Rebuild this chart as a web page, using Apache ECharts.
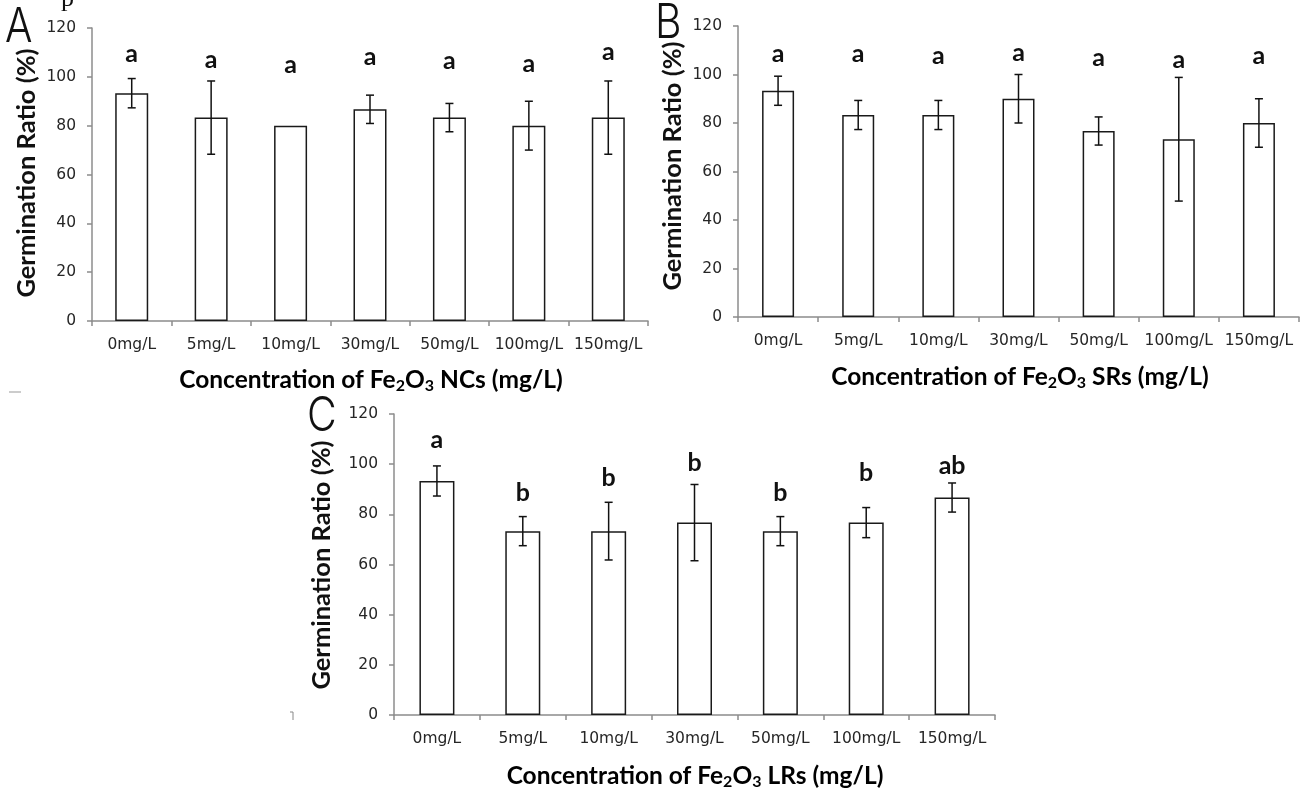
<!DOCTYPE html>
<html>
<head>
<meta charset="utf-8">
<title>Germination ratio</title>
<script src="https://cdn.jsdelivr.net/npm/echarts@6.0.0/dist/echarts.min.js"></script>
<style>
  html, body { margin: 0; padding: 0; background: #fff; }
  #chart { width: 1304px; height: 789px; }
</style>
</head>
<body>
<div id="chart"></div>
<script>
// concentrations on the x axis (same for all three panels)
const categories = ['0mg/L', '5mg/L', '10mg/L', '30mg/L', '50mg/L', '100mg/L', '150mg/L'];
const yTicks = [0, 20, 40, 60, 80, 100, 120];

// A: Fe2O3 NCs
const meanA = [93.3, 83.3, 80.0, 86.7, 83.3, 80.0, 83.3];
const errA = [6.0, 15.0, 0, 5.8, 5.8, 10.0, 15.0];
const letterA = ['a', 'a', 'a', 'a', 'a', 'a', 'a'];
const letterPosA = [106.3, 103.8, 101.8, 104.9, 103.3, 102.2, 107.3];

// B: Fe2O3 SRs
const meanB = [93.3, 83.3, 83.3, 90.0, 76.7, 73.3, 80.0];
const errB = [6.0, 6.0, 6.0, 10.0, 5.8, 25.5, 10.0];
const letterB = ['a', 'a', 'a', 'a', 'a', 'a', 'a'];
const letterPosB = [105.3, 105.3, 104.6, 106.0, 103.6, 102.9, 104.6];

// C: Fe2O3 LRs
const meanC = [93.3, 73.3, 73.3, 76.7, 73.3, 76.7, 86.7];
const errC = [6.0, 5.8, 11.5, 15.2, 5.8, 6.0, 5.8];
const letterC = ['a', 'b', 'b', 'b', 'b', 'b', 'ab'];
const letterPosC = [106.7, 85.7, 91.7, 97.4, 85.7, 93.4, 96.4];

const panels = [
  { means: meanA, errs: errA, letters: letterA, letterPos: letterPosA, barWidth: 33,
    grid: { left: 92, top: 28, width: 556, height: 293 } },
  { means: meanB, errs: errB, letters: letterB, letterPos: letterPosB, barWidth: 32,
    grid: { left: 738, top: 26, width: 561, height: 291 } },
  { means: meanC, errs: errC, letters: letterC, letterPos: letterPosC, barWidth: 35,
    grid: { left: 394, top: 414, width: 601, height: 301 } }
];

const axisGrey = '#8c8c8c';
const tickFont = { fontFamily: 'DejaVu Sans', fontSize: 15.5, color: '#262626' };

const grids = [], xAxes = [], yAxes = [], series = [];

panels.forEach(function (p, g) {
  grids.push(Object.assign({ containLabel: false }, p.grid));
  xAxes.push({
    type: 'category', gridIndex: g, data: categories,
    axisLine: { lineStyle: { color: axisGrey, width: 1.5 } },
    axisTick: { show: true, length: 5, lineStyle: { color: axisGrey, width: 1.5 } },
    axisLabel: Object.assign({ margin: 16, interval: 0 }, tickFont)
  });
  yAxes.push({
    type: 'value', gridIndex: g, min: yTicks[0], max: yTicks[yTicks.length - 1], interval: 20,
    axisLine: { show: true, lineStyle: { color: axisGrey, width: 1.5 } },
    axisTick: { show: true, length: 5, lineStyle: { color: axisGrey, width: 1.5 } },
    axisLabel: Object.assign({ margin: 16 }, tickFont),
    splitLine: { show: false }
  });

  series.push({
    type: 'bar', xAxisIndex: g, yAxisIndex: g, data: p.means,
    barWidth: p.barWidth, silent: true,
    itemStyle: { color: '#fff', borderColor: '#1a1a1a', borderWidth: 1.5 }
  });

  // error bars
  series.push({
    type: 'custom', xAxisIndex: g, yAxisIndex: g, silent: true, z: 5,
    data: p.means.map(function (m, i) { return [i, m, p.errs[i]]; }),
    renderItem: function (params, api) {
      const i = api.value(0), m = api.value(1), e = api.value(2);
      if (!e) return null;
      const hi = api.coord([i, m + e]);
      const lo = api.coord([i, m - e]);
      const cap = 4;
      const st = { stroke: '#111', lineWidth: 1.5 };
      return {
        type: 'group',
        children: [
          { type: 'line', shape: { x1: hi[0], y1: hi[1], x2: lo[0], y2: lo[1] }, style: st },
          { type: 'line', shape: { x1: hi[0] - cap, y1: hi[1], x2: hi[0] + cap, y2: hi[1] }, style: st },
          { type: 'line', shape: { x1: lo[0] - cap, y1: lo[1], x2: lo[0] + cap, y2: lo[1] }, style: st }
        ]
      };
    }
  });

  // significance letters
  series.push({
    type: 'custom', xAxisIndex: g, yAxisIndex: g, silent: true, z: 6,
    data: p.letterPos.map(function (v, i) { return [i, v]; }),
    renderItem: function (params, api) {
      const pt = api.coord([api.value(0), api.value(1)]);
      return {
        type: 'text',
        x: pt[0], y: pt[1] + 5,
        style: {
          text: p.letters[params.dataIndex],
          fontFamily: 'Lato', fontWeight: 'bold', fontSize: 25, fill: '#111',
          align: 'center', verticalAlign: 'bottom'
        }
      };
    }
  });
});

const titleRich = {
  t: { fontFamily: 'Lato', fontWeight: 'bold', fontSize: 24.5, lineHeight: 28, color: '#111' },
  s: { fontFamily: 'Lato', fontWeight: 'bold', fontSize: 16, lineHeight: 10, color: '#111', verticalAlign: 'bottom' }
};

function xTitle(x, y, kind) {
  return {
    type: 'text', x: x, y: y,
    style: {
      text: '{t|Concentration of Fe}{s|2}{t|O}{s|3}{t| ' + kind + ' (mg/L)}',
      rich: titleRich, align: 'center', verticalAlign: 'middle'
    }
  };
}

function yTitle(x, y) {
  return {
    type: 'text', x: x, y: y, rotation: Math.PI / 2,
    style: {
      text: 'Germination Ratio (%)', fontFamily: 'Lato', fontWeight: 'bold', fontSize: 25.5,
      fill: '#111', align: 'center', verticalAlign: 'middle'
    }
  };
}

function panelLetter(x, y, s) {
  return {
    type: 'text', x: x, y: y, scaleX: 0.85,
    style: { text: s, fontFamily: 'Inter', fontWeight: 300, fontSize: 48, fill: '#111',
      align: 'left', verticalAlign: 'top' }
  };
}

const chart = echarts.init(document.getElementById('chart'));
chart.setOption({
  animation: false,
  backgroundColor: '#fff',
  grid: grids,
  xAxis: xAxes,
  yAxis: yAxes,
  series: series,
  graphic: [
    xTitle(371, 380, 'NCs'),
    xTitle(1020, 377, 'SRs'),
    xTitle(695, 776, 'LRs'),
    yTitle(27, 173),
    yTitle(673, 166),
    yTitle(322, 565),
    panelLetter(5, 4, 'A'),
    panelLetter(655, 0, 'B'),
    panelLetter(307, 393, 'C'),
    { type: 'text', x: 61, y: -14, style: { text: 'p', fontFamily: 'Liberation Serif', fontSize: 26, fill: '#111' } },
    { type: 'line', shape: { x1: 9, y1: 392, x2: 21, y2: 392 }, style: { stroke: '#bbb', lineWidth: 1.5 } },
    { type: 'polyline', shape: { points: [[290, 712], [293, 712], [293, 720]] }, style: { stroke: '#888', lineWidth: 1, fill: null } }
  ]
});
</script>
</body>
</html>
